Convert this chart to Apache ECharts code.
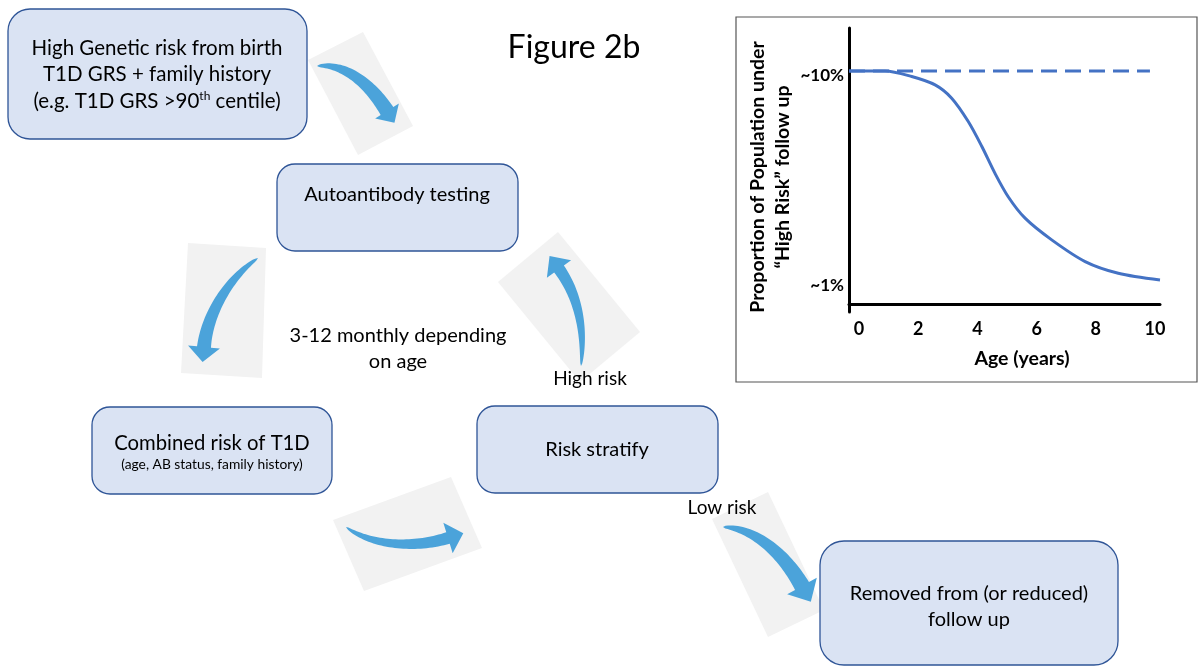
<!DOCTYPE html>
<html><head><meta charset="utf-8">
<script src="https://cdn.jsdelivr.net/npm/echarts@6/dist/echarts.min.js"></script>
<style>html,body{margin:0;padding:0;background:#fff}#c{width:1201px;height:666px}</style>
</head><body><div id="c"></div>
<script>
// ---- data ----
const ages = [-0.34, 0.88, 1.78, 2.57, 3.13, 3.69, 4.15, 4.59, 5.04, 5.61, 6.51, 7.64, 8.76, 10.17];
const followUp = [10, 10, 9.76, 9.40, 8.83, 7.83, 6.76, 5.62, 4.61, 3.69, 2.76, 1.83, 1.33, 1.04];
const baselineAges = [-0.34, 9.83];
const baselineValues = [10, 10];
const xTickValues = [0, 2, 4, 6, 8, 10];
const yTickValues = [1, 10];
const yTickLabels = ['~1%', '~10%'];

const FONT = 'Lato, "Open Sans", sans-serif';
const BOX_FILL = '#DAE3F3', BOX_STROKE = '#2F5597';
const ARROW = '#4BA3DA', BG = '#F2F2F2';

function cubic(p0,p1,p2,p3,t){const u=1-t;return [u*u*u*p0[0]+3*u*u*t*p1[0]+3*u*t*t*p2[0]+t*t*t*p3[0],u*u*u*p0[1]+3*u*u*t*p1[1]+3*u*t*t*p2[1]+t*t*t*p3[1]];}
function dcubic(p0,p1,p2,p3,t){const u=1-t;const dx=3*u*u*(p1[0]-p0[0])+6*u*t*(p2[0]-p1[0])+3*t*t*(p3[0]-p2[0]);const dy=3*u*u*(p1[1]-p0[1])+6*u*t*(p2[1]-p1[1])+3*t*t*(p3[1]-p2[1]);const l=Math.hypot(dx,dy)||1;return [dx/l,dy/l];}
function arrowPoints(a){
  const N=40,L=[],R=[];
  for(let i=0;i<=N;i++){const t=i/N;const b=cubic(a.p0,a.p1,a.p2,a.p3,t);const d=dcubic(a.p0,a.p1,a.p2,a.p3,t);const n=[-d[1],d[0]];const ww=a.w*Math.pow(t,0.5)/2;L.push([b[0]+n[0]*ww,b[1]+n[1]*ww]);R.push([b[0]-n[0]*ww,b[1]-n[1]*ww]);}
  const d=dcubic(a.p0,a.p1,a.p2,a.p3,1);const n=[-d[1],d[0]];const p=a.p3;
  const bl=[p[0]+n[0]*a.hw/2,p[1]+n[1]*a.hw/2],br=[p[0]-n[0]*a.hw/2,p[1]-n[1]*a.hw/2],tip=[p[0]+d[0]*a.hl,p[1]+d[1]*a.hl];
  return L.concat([bl,tip,br],R.reverse());
}
const arrows=[
  {bg:[[363,32],[413,126],[358,155],[308,60]], p0:[317,66],p1:[345,63],p2:[370,84],p3:[387,111],w:15,hw:28,hl:14},
  {bg:[[188,243],[266,248],[262,378],[181,373]], p0:[258,258],p1:[228,278],p2:[207,315],p3:[204,347],w:14,hw:32,hl:15},
  {bg:[[333,520],[451,477],[482,548],[364,591]], p0:[346,527],p1:[370,545],p2:[412,549],p3:[448,538],w:12,hw:32,hl:16},
  {bg:[[558,232],[640,332],[580,382],[498,282]], p0:[581,366],p1:[585,330],p2:[578,295],p3:[559,269],w:12,hw:30,hl:16},
  {bg:[[712,519],[768,492],[824,610],[768,637]], p0:[723,527],p1:[755,528],p2:[784,554],p3:[802,586],w:16,hw:34,hl:18}
];
const boxes=[[8,9,299,130,22],[277,164,241,87,18],[92,407,240,87,18],[477,406,241,87,18],[820,541,298,124,24]];
function txt(x,y,text,size,extra){return Object.assign({type:'text',x:x,y:y,z:40,style:Object.assign({text:text,fill:'#000',fontSize:size,fontFamily:FONT,align:'center',verticalAlign:'middle'},extra||{})});}

const graphic=[];
arrows.forEach(a=>{graphic.push({type:'polygon',z:10,shape:{points:a.bg},style:{fill:BG}});});
arrows.forEach(a=>{graphic.push({type:'polygon',z:11,shape:{points:arrowPoints(a)},style:{fill:ARROW}});});
boxes.forEach(b=>{graphic.push({type:'rect',z:20,shape:{x:b[0],y:b[1],width:b[2],height:b[3],r:b[4]},style:{fill:BOX_FILL,stroke:BOX_STROKE,lineWidth:1.3}});});
graphic.push({type:'rect',z:5,shape:{x:736,y:17,width:461,height:365},style:{fill:'none',stroke:'#555',lineWidth:1.2}});
graphic.push(
  txt(157,48,'High Genetic risk from birth',20.5),
  txt(157,74,'T1D GRS + family history',20.5),
  txt(157,101,'(e.g. T1D GRS >90{sup|th} centile)',20.5,{rich:{sup:{fontSize:12,fontFamily:FONT,fill:'#000',padding:[0,0,10,0]}}}),
  txt(397,195,'Autoantibody testing',20),
  txt(212,443,'Combined risk of T1D',20.3),
  txt(212,465,'(age, AB status, family history)',13.8),
  txt(597,450,'Risk stratify',20),
  txt(969,594,'Removed from (or reduced)',20),
  txt(969,620,'follow up',20),
  txt(398,336,'3-12 monthly depending',20),
  txt(398,362,'on age',20),
  txt(590,379,'High risk',19),
  txt(722,508,'Low risk',19),
  txt(574,48,'Figure 2b',32)
);

const chart=echarts.init(document.getElementById('c'),null,{renderer:'canvas'});
chart.setOption({
  backgroundColor:'#fff',
  animation:false,
  grid:{left:849,top:28,width:311,height:284},
  xAxis:{type:'value',min:-0.34,max:10.17,
    name:'Age (years)',nameLocation:'middle',nameGap:37,
    nameTextStyle:{fontFamily:FONT,fontWeight:'bold',fontSize:19.5,color:'#000',padding:[0,0,0,35]},
    axisLine:{show:true,lineStyle:{color:'#000',width:3}},axisTick:{show:false},splitLine:{show:false},
    axisLabel:{customValues:xTickValues,fontFamily:FONT,fontWeight:'bold',fontSize:18,color:'#000',margin:8}},
  yAxis:{type:'value',min:-0.33,max:11.84,
    name:'Proportion of Population under\n\u201CHigh Risk\u201D follow up',nameLocation:'middle',nameRotate:90,nameGap:54,
    nameTextStyle:{fontFamily:FONT,fontWeight:'bold',fontSize:19.5,color:'#000',lineHeight:25,padding:[0,14,0,0]},
    axisLine:{show:true,onZero:false,lineStyle:{color:'#000',width:3}},axisTick:{show:false},splitLine:{show:false},
    axisLabel:{customValues:yTickValues,formatter:v=>yTickLabels[yTickValues.indexOf(v)],fontFamily:FONT,fontWeight:'bold',fontSize:17,color:'#000',margin:5,verticalAlign:'top',lineHeight:10}},
  series:[
    {type:'line',data:baselineAges.map((a,i)=>[a,baselineValues[i]]),symbol:'none',lineStyle:{color:'#4472C4',width:3,type:[16,8]}},
    {type:'line',data:ages.map((a,i)=>[a,followUp[i]]),symbol:'none',smooth:0.3,lineStyle:{color:'#4472C4',width:3}}
  ],
  graphic:graphic
});
</script></body></html>
